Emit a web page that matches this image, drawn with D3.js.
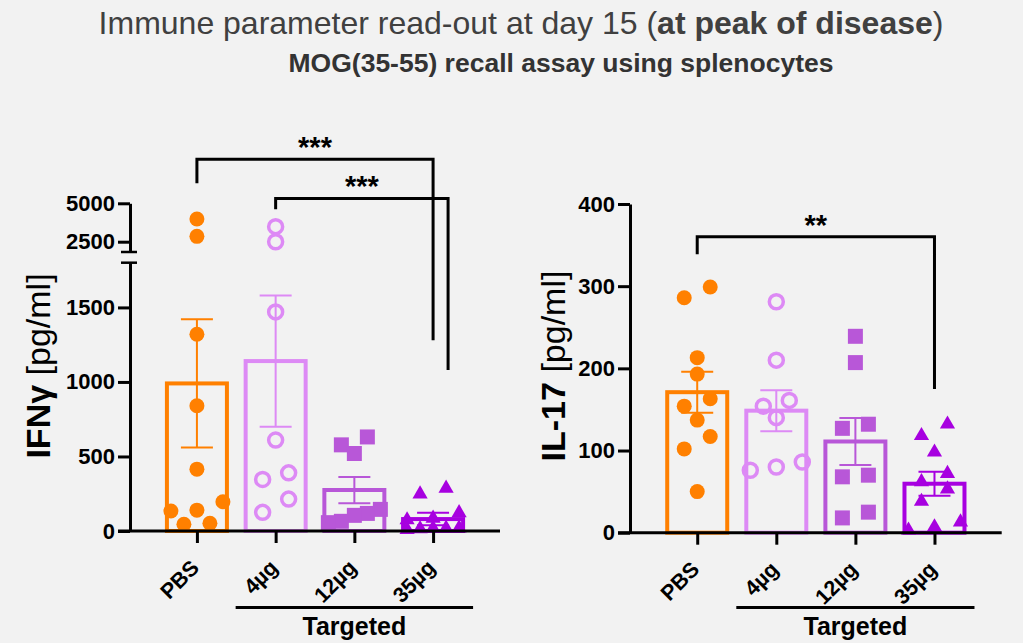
<!DOCTYPE html>
<html>
<head>
<meta charset="utf-8">
<script src="https://cdn.jsdelivr.net/npm/d3@7"></script>
<style>
    body { margin: 0; background: #f2f2f2; }
    svg { display: block; font-family: Arial, "Liberation Sans", sans-serif; }
</style>
</head>
<body>
<div id="chart"></div>
<script>
// groups and colours
const groups = ['PBS', '4µg', '12µg', '35µg']
const targeted = ['4µg', '12µg', '35µg']
const colors = ['#ff8000', '#dd8af5', '#b857d8', '#a700e0']
const shapes = ['dot', 'ring', 'square', 'triangle']

// IFNγ [pg/ml], one array per group
const ifnPBS = [3980, 2850, 1320, 840, 415, 196, 140, 134, 52, 45]
const ifn4 = [3480, 2500, 1470, 610, 390, 346, 214, 125]
const ifn12 = [631, 578, 520, 145, 118, 105, 65, 56]
const ifn35 = [286, 248, 122, 85, 74, 20, 18, 18, 15, 10]
const ifnMean = [990, 1140, 275, 80]
const ifnSem = [430, 440, 88, 42]
const ifnTicksLow = [0, 500, 1000, 1500]
const ifnTicksHigh = [2500, 5000]

// IL-17 [pg/ml]
const ilPBS = [299, 286, 213, 193, 163, 154, 137, 117, 102, 50]
const il4 = [281, 210, 161, 154, 140, 86, 80, 76]
const il12 = [239, 207, 132, 127, 70, 68, 25, 18]
const il35 = [132, 118, 98, 72, 62, 53, 38, 13, 7, 3]
const ilMean = [171, 148.5, 111, 59.6]
const ilSem = [25, 25, 28.5, 14.6]
const ilTicks = [0, 100, 200, 300, 400]

// significance brackets: [from, to, top, left leg end, right leg end] in data units
const ifnBrackets = [['PBS', '35µg', 7860, 6300, 1280], ['4µg', '35µg', 5320, 4610, 1080]]
const ifnStars = ['***', '***']
const ilBrackets = [['PBS', '35µg', 360, 339, 175]]
const ilStars = ['**']

const width = 1023
const height = 643

const svg = d3.select('#chart')
    .append('svg')
    .attr('width', width)
    .attr('height', height)

svg.append('rect').attr('width', width).attr('height', height).attr('fill', '#f2f2f2')

// titles
const title = svg.append('text')
    .attr('x', 521).attr('y', 34)
    .attr('text-anchor', 'middle')
    .style('font-size', '32px')
    .style('fill', '#404040')
title.append('tspan').text('Immune parameter read-out at day 15 (')
title.append('tspan').style('font-weight', 'bold').text('at peak of disease')
title.append('tspan').text(')')

svg.append('text')
    .attr('x', 561).attr('y', 72)
    .attr('text-anchor', 'middle')
    .style('font-size', '26.5px')
    .style('font-weight', 'bold')
    .style('fill', '#333')
    .text('MOG(35-55) recall assay using splenocytes')

// spread points of one group sideways, GraphPad style rows
const swarm = (vals, y, cx) => {
    const pts = vals.map(v => ({ v, py: y(v) })).sort((a, b) => a.py - b.py)
    const rows = []
    pts.forEach(p => {
        const row = rows[rows.length - 1]
        if (row && p.py - row[0].py < 15) row.push(p)
        else rows.push([p])
    })
    rows.forEach(row => {
        row.sort((a, b) => a.v - b.v)
        const gap = row.length > 1 ? Math.min(26, 52 / (row.length - 1)) : 0
        row.forEach((p, i) => p.px = cx + (i - (row.length - 1) / 2) * gap)
    })
    return pts
}

const drawPoints = (g, pts, shape, color) => {
    if (shape === 'dot' || shape === 'ring') {
        g.selectAll(null).data(pts).enter().append('circle')
            .attr('cx', d => d.px).attr('cy', d => d.py)
            .attr('r', shape === 'dot' ? 7.5 : 7)
            .style('fill', shape === 'dot' ? color : 'none')
            .style('stroke', shape === 'ring' ? color : 'none')
            .style('stroke-width', 3.5)
    } else {
        const sym = shape === 'square'
            ? d3.symbol(d3.symbolSquare, 225)
            : d3.symbol(d3.symbolTriangle, 100)
        g.selectAll(null).data(pts).enter().append('path')
            .attr('d', sym)
            .attr('transform', d => `translate(${d.px},${d.py})`)
            .style('fill', color)
    }
}

const panel = ({ x0, x1, y, y0, values, means, sems, brackets, stars, label, bold }) => {
    const x = d3.scalePoint().domain(groups).range([x0, x1]).padding(0.85)
    const g = svg.append('g')

    // bars, open outline
    g.selectAll('rect.bar')
        .data(means)
        .enter()
        .append('rect')
        .attr('class', 'bar')
        .attr('x', (d, i) => x(groups[i]) - 30)
        .attr('width', 60)
        .attr('y', d => y(d))
        .attr('height', d => y0 - y(d))
        .style('fill', 'none')
        .style('stroke', (d, i) => colors[i])
        .style('stroke-width', 4)

    // mean ± SEM
    means.forEach((m, i) => {
        const cx = x(groups[i])
        const top = y(m + sems[i])
        const bot = y(m - sems[i])
        g.append('path')
            .attr('d', `M${cx},${top}V${bot}M${cx - 16},${top}H${cx + 16}M${cx - 16},${bot}H${cx + 16}`)
            .style('stroke', colors[i])
            .style('stroke-width', 2)
            .style('fill', 'none')
    })

    // individual animals
    values.forEach((vals, i) => drawPoints(g, swarm(vals, y, x(groups[i])), shapes[i], colors[i]))

    // x axis
    const xAxis = g.append('g')
        .attr('transform', `translate(0,${y0})`)
        .call(d3.axisBottom(x).tickSize(12).tickSizeOuter(0))
    xAxis.select('.domain').attr('d', `M${x0 - 12},0H${x1}`)
    xAxis.selectAll('line, path').style('stroke', '#000').style('stroke-width', 3)
    xAxis.selectAll('text')
        .attr('x', 0).attr('y', 0).attr('dy', null)
        .attr('text-anchor', 'end')
        .attr('transform', 'translate(3,38) rotate(-45)')
        .style('font-size', '21.5px')
        .style('font-weight', 'bold')
        .style('fill', '#000')

    // "Targeted" group line
    const tx0 = x(targeted[0]) - 40
    const tx1 = x(targeted[targeted.length - 1]) + 40
    g.append('line')
        .attr('x1', tx0).attr('x2', tx1)
        .attr('y1', 607.5).attr('y2', 607.5)
        .style('stroke', '#000').style('stroke-width', 3)
    g.append('text')
        .attr('x', (tx0 + tx1) / 2).attr('y', 635)
        .attr('text-anchor', 'middle')
        .style('font-size', '25px').style('font-weight', 'bold')
        .text('Targeted')

    // brackets
    brackets.forEach(([a, b, top, l, r], i) => {
        const bx0 = x(a)
        const bx1 = x(b) + i * 15
        g.append('path')
            .attr('d', `M${bx0},${y(l)}V${y(top)}H${bx1}V${y(r)}`)
            .style('fill', 'none').style('stroke', '#000').style('stroke-width', 3)
        g.append('text')
            .attr('x', (bx0 + bx1) / 2).attr('y', y(top) - 2)
            .attr('text-anchor', 'middle')
            .style('font-size', '29px').style('font-weight', 'bold')
            .text(stars[i])
    })

    // y label
    const yl = g.append('text')
        .attr('transform', `translate(${label},${366}) rotate(-90)`)
        .attr('text-anchor', 'middle')
        .style('font-size', '34px')
    yl.append('tspan').style('font-weight', 'bold').text(bold)
    yl.append('tspan').text(' [pg/ml]')

    return g
}

const styleY = sel => {
    sel.selectAll('line, path').style('stroke', '#000').style('stroke-width', 3)
    sel.selectAll('text').style('font-size', '22px').style('font-weight', 'bold').style('fill', '#000')
}

// IFNγ panel, broken y axis
const lower = d3.scaleLinear().domain([0, 1800]).range([531, 262.7])
const upper = d3.scaleLinear().domain([1830, 5000]).range([252, 203.3])
const yIfn = v => v <= 1800 ? lower(v) : upper(v)

panel({
    x0: 130, x1: 500, y: yIfn, y0: 531,
    values: [ifnPBS, ifn4, ifn12, ifn35],
    means: ifnMean, sems: ifnSem,
    brackets: ifnBrackets, stars: ifnStars,
    label: 50, bold: 'IFNγ'
})

svg.append('g').attr('transform', 'translate(130,0)')
    .call(d3.axisLeft(lower).tickValues(ifnTicksLow).tickFormat(d3.format('d')).tickSize(12).tickSizeOuter(0).tickPadding(3))
    .call(styleY)
svg.append('g').attr('transform', 'translate(130,0)')
    .call(d3.axisLeft(upper).tickValues(ifnTicksHigh).tickFormat(d3.format('d')).tickSize(12).tickSizeOuter(0).tickPadding(3))
    .call(styleY)

// break marks
svg.selectAll('line.brk')
    .data([upper.range()[0], lower.range()[1]])
    .enter()
    .append('line')
    .attr('x1', 121).attr('x2', 137)
    .attr('y1', d => d).attr('y2', d => d)
    .style('stroke', '#000').style('stroke-width', 2.5)

// IL-17 panel
const yIl = d3.scaleLinear().domain([0, 400]).range([532.7, 204])

panel({
    x0: 630, x1: 1001.7, y: yIl, y0: 532.7,
    values: [ilPBS, il4, il12, il35],
    means: ilMean, sems: ilSem,
    brackets: ilBrackets, stars: ilStars,
    label: 565, bold: 'IL-17'
})

svg.append('g').attr('transform', 'translate(630,0)')
    .call(d3.axisLeft(yIl).tickValues(ilTicks).tickFormat(d3.format('d')).tickSize(12).tickSizeOuter(0).tickPadding(3))
    .call(styleY)
</script>
</body>
</html>
